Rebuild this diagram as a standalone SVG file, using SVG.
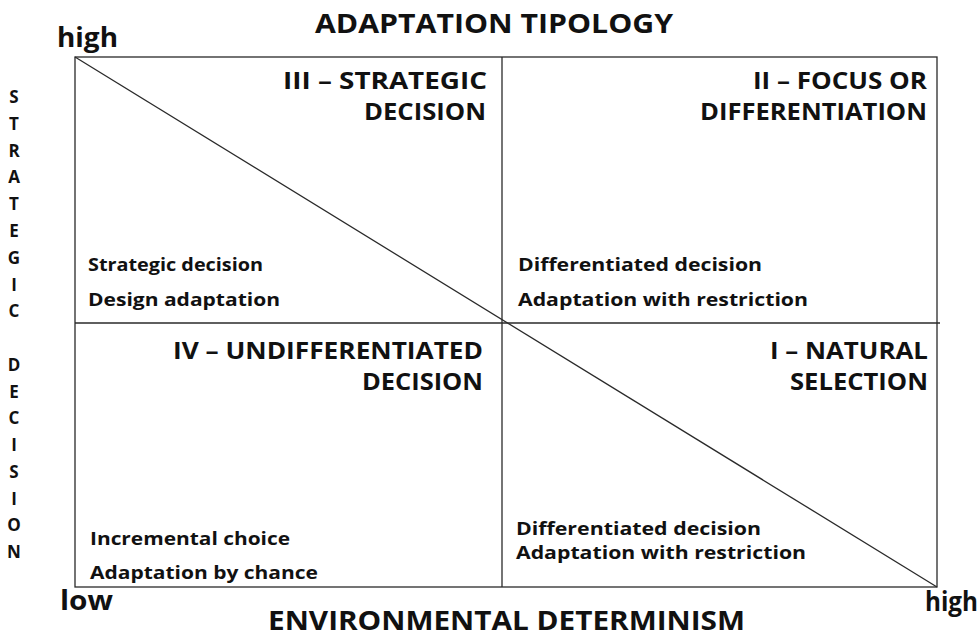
<svg xmlns="http://www.w3.org/2000/svg" width="980" height="637" viewBox="0 0 980 637">
<style>
text{font-family:"Open Sans","Liberation Sans",sans-serif;font-weight:bold;fill:#111}
.big{font-size:26px}
.q{font-size:23px}
.b{font-size:18px}
.bs{font-size:17px}
.v{font-size:17px;text-anchor:middle}
.ln{stroke:#2a2a2a;stroke-width:1.3;fill:none}
</style>
<rect width="980" height="637" fill="#fff"/>
<g id="connectors">
<rect class="ln" x="75" y="57" width="862" height="530"/>
<line class="ln" x1="502" y1="57" x2="502" y2="587"/>
<line class="ln" x1="75" y1="323" x2="940" y2="323"/>
<line class="ln" x1="75" y1="57" x2="937" y2="587" stroke-width="1"/>
</g>
<g id="title"><text class="big" x="315" y="33" textLength="358" lengthAdjust="spacingAndGlyphs">ADAPTATION TIPOLOGY</text></g>
<g id="axis-y">
<text class="big" x="57" y="47" textLength="61" lengthAdjust="spacingAndGlyphs">high</text>
<text class="v" x="14" y="103">S</text>
<text class="v" x="14" y="130">T</text>
<text class="v" x="14" y="157">R</text>
<text class="v" x="14" y="183">A</text>
<text class="v" x="14" y="210">T</text>
<text class="v" x="14" y="237">E</text>
<text class="v" x="14" y="264">G</text>
<text class="v" x="14" y="291">I</text>
<text class="v" x="14" y="317">C</text>
<text class="v" x="14" y="371">D</text>
<text class="v" x="14" y="398">E</text>
<text class="v" x="14" y="424">C</text>
<text class="v" x="14" y="451">I</text>
<text class="v" x="14" y="478">S</text>
<text class="v" x="14" y="505">I</text>
<text class="v" x="14" y="531">O</text>
<text class="v" x="14" y="558">N</text>
</g>
<g id="axis-x">
<text class="big" x="60" y="610" textLength="53" lengthAdjust="spacingAndGlyphs">low</text>
<text class="big" x="925" y="611" textLength="53" lengthAdjust="spacingAndGlyphs">high</text>
<text class="big" x="268" y="630" textLength="477" lengthAdjust="spacingAndGlyphs">ENVIRONMENTAL DETERMINISM</text>
</g>
<g id="q3">
<text class="q" x="283" y="89" textLength="204" lengthAdjust="spacingAndGlyphs">III – STRATEGIC</text>
<text class="q" x="364" y="120" textLength="122" lengthAdjust="spacingAndGlyphs">DECISION</text>
<text class="b" x="88" y="271" textLength="175" lengthAdjust="spacingAndGlyphs">Strategic decision</text>
<text class="b" x="88" y="306" textLength="192" lengthAdjust="spacingAndGlyphs">Design adaptation</text>
</g>
<g id="q2">
<text class="q" x="753" y="89" textLength="174" lengthAdjust="spacingAndGlyphs">II – FOCUS OR</text>
<text class="q" x="700" y="120" textLength="227" lengthAdjust="spacingAndGlyphs">DIFFERENTIATION</text>
<text class="b" x="518" y="271" textLength="244" lengthAdjust="spacingAndGlyphs">Differentiated decision</text>
<text class="b" x="518" y="306" textLength="290" lengthAdjust="spacingAndGlyphs">Adaptation with restriction</text>
</g>
<g id="q4">
<text class="q" x="173" y="359" textLength="310" lengthAdjust="spacingAndGlyphs">IV – UNDIFFERENTIATED</text>
<text class="q" x="362" y="390" textLength="121" lengthAdjust="spacingAndGlyphs">DECISION</text>
<text class="b" x="90" y="545" textLength="200" lengthAdjust="spacingAndGlyphs">Incremental choice</text>
<text class="b" x="90" y="579" textLength="228" lengthAdjust="spacingAndGlyphs">Adaptation by chance</text>
</g>
<g id="q1">
<text class="bs" x="516" y="535" textLength="245" lengthAdjust="spacingAndGlyphs">Differentiated decision</text>
<text class="bs" x="516" y="559" textLength="290" lengthAdjust="spacingAndGlyphs">Adaptation with restriction</text>
<text class="q" x="770" y="359" textLength="158" lengthAdjust="spacingAndGlyphs">I – NATURAL</text>
<text class="q" x="790" y="390" textLength="138" lengthAdjust="spacingAndGlyphs">SELECTION</text>
</g>
</svg>
